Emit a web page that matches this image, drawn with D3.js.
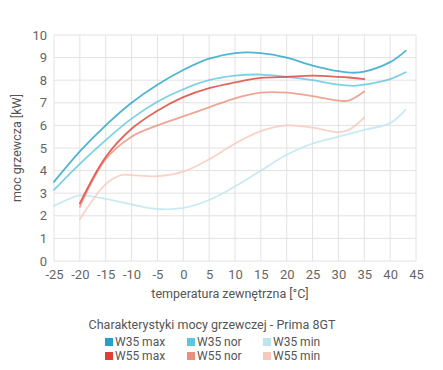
<!DOCTYPE html>
<html><head><meta charset="utf-8">
<script src="https://cdn.jsdelivr.net/npm/d3@7"></script>
<style>body{margin:0;background:#fff;} text{font-family:Roboto,"Open Sans",sans-serif;}</style>
</head><body><svg id="c" width="443" height="370"></svg>
<script>
const temps35 = [-25,-20,-15,-10,-5,0,5,10,15,20,25,30,33,35,40,43];
const w35max = [3.5,4.85,6.0,7.0,7.8,8.45,8.95,9.2,9.2,9.0,8.65,8.4,8.33,8.38,8.8,9.3];
const w35nor = [3.15,4.3,5.35,6.3,7.05,7.6,8.0,8.2,8.25,8.15,8.0,7.8,7.75,7.8,8.05,8.35];
const temps35min = [-25,-22,-20,-15,-10,-5,0,5,10,15,20,25,30,35,40,43];
const w35min = [2.45,2.75,2.9,2.75,2.5,2.3,2.35,2.7,3.3,4.0,4.7,5.2,5.5,5.8,6.1,6.7];
const temps55 = [-20,-15,-10,-5,0,5,10,15,20,25,30,32,35];
const w55max = [2.55,4.6,5.85,6.65,7.25,7.65,7.9,8.1,8.15,8.2,8.15,8.12,8.05];
const w55nor = [2.4,4.5,5.5,6.0,6.4,6.8,7.2,7.45,7.45,7.3,7.1,7.1,7.5];
const temps55min = [-20,-15,-12,-10,-5,0,5,10,15,20,25,30,32,35];
const w55min = [1.85,3.4,3.8,3.8,3.75,3.95,4.5,5.2,5.75,6.0,5.9,5.7,5.8,6.35];
const xTicks = [-25,-20,-15,-10,-5,0,5,10,15,20,25,30,35,40,45];
const yTicks = [0,1,2,3,4,5,6,7,8,9,10];
const seriesNames = ["W35 max","W35 nor","W35 min","W55 max","W55 nor","W55 min"];
const seriesColors = ["#23a2c8","#5cc6de","#bde5ef","#dc4036","#ea8f7c","#f7c8bc"];
const title = "Charakterystyki mocy grzewczej - Prima 8GT";

const series = [
  {x:temps35,y:w35max},{x:temps35,y:w35nor},{x:temps35min,y:w35min},
  {x:temps55,y:w55max},{x:temps55,y:w55nor},{x:temps55min,y:w55min}
];
const svg = d3.select("#c");
const L=54,R=416,T=35,B=261;
const x = d3.scaleLinear().domain([-25,45]).range([L,R]);
const y = d3.scaleLinear().domain([0,10]).range([B,T]);

const g = svg.append("g");
g.selectAll(".vx").data(xTicks).enter().append("line")
 .attr("x1",d=>x(d)).attr("x2",d=>x(d)).attr("y1",T).attr("y2",B)
 .attr("stroke","#e2e2e2").attr("stroke-width",1);
g.selectAll(".hy").data(yTicks).enter().append("line")
 .attr("x1",L).attr("x2",R).attr("y1",d=>y(d)).attr("y2",d=>y(d))
 .attr("stroke","#e2e2e2").attr("stroke-width",1);

const xa = svg.append("g").attr("transform",`translate(0,${B})`)
 .call(d3.axisBottom(x).tickValues(xTicks).tickSize(0).tickPadding(9).tickFormat(d=>String(d)));
const ya = svg.append("g").attr("transform",`translate(${L},0)`)
 .call(d3.axisLeft(y).tickValues(yTicks).tickSize(0).tickPadding(7).tickFormat(d=>String(d)));
[xa,ya].forEach(a=>{a.select(".domain").remove();
 a.selectAll("text").attr("fill","#666").style("font-size","13px").style("font-family","Roboto, sans-serif");});

const line = d3.line().x(d=>x(d[0])).y(d=>y(d[1])).curve(d3.curveCatmullRom.alpha(0.5));
[2,5,1,4,0,3].forEach(i=>{
  const s=series[i];
  svg.append("path").datum(s.x.map((v,j)=>[v,s.y[j]]))
   .attr("d",line).attr("fill","none").attr("stroke",seriesColors[i])
   .attr("stroke-width",1.8).attr("stroke-opacity",0.8).attr("stroke-linecap","round");
});

svg.append("text").attr("transform",`translate(21,${(T+B)/2}) rotate(-90)`)
 .attr("text-anchor","middle").attr("fill","#555").style("font-size","12.5px").text("moc grzewcza [kW]");
svg.append("text").attr("x",230).attr("y",298).attr("text-anchor","middle")
 .attr("fill","#555").style("font-size","12.5px").text("temperatura zewnętrzna [°C]");

svg.append("text").attr("x",212).attr("y",329).attr("text-anchor","middle")
 .attr("fill","#555").style("font-size","12.5px").text(title);
const lx=[105,187,263], ly=[346,360];
seriesNames.forEach((n,i)=>{
  const cx=lx[i%3], cy=ly[Math.floor(i/3)];
  svg.append("rect").attr("x",cx).attr("y",cy-8).attr("width",8).attr("height",8).attr("fill",seriesColors[i]);
  svg.append("text").attr("x",cx+10).attr("y",cy).attr("fill","#555").style("font-size","12px").text(n);
});
</script></body></html>
